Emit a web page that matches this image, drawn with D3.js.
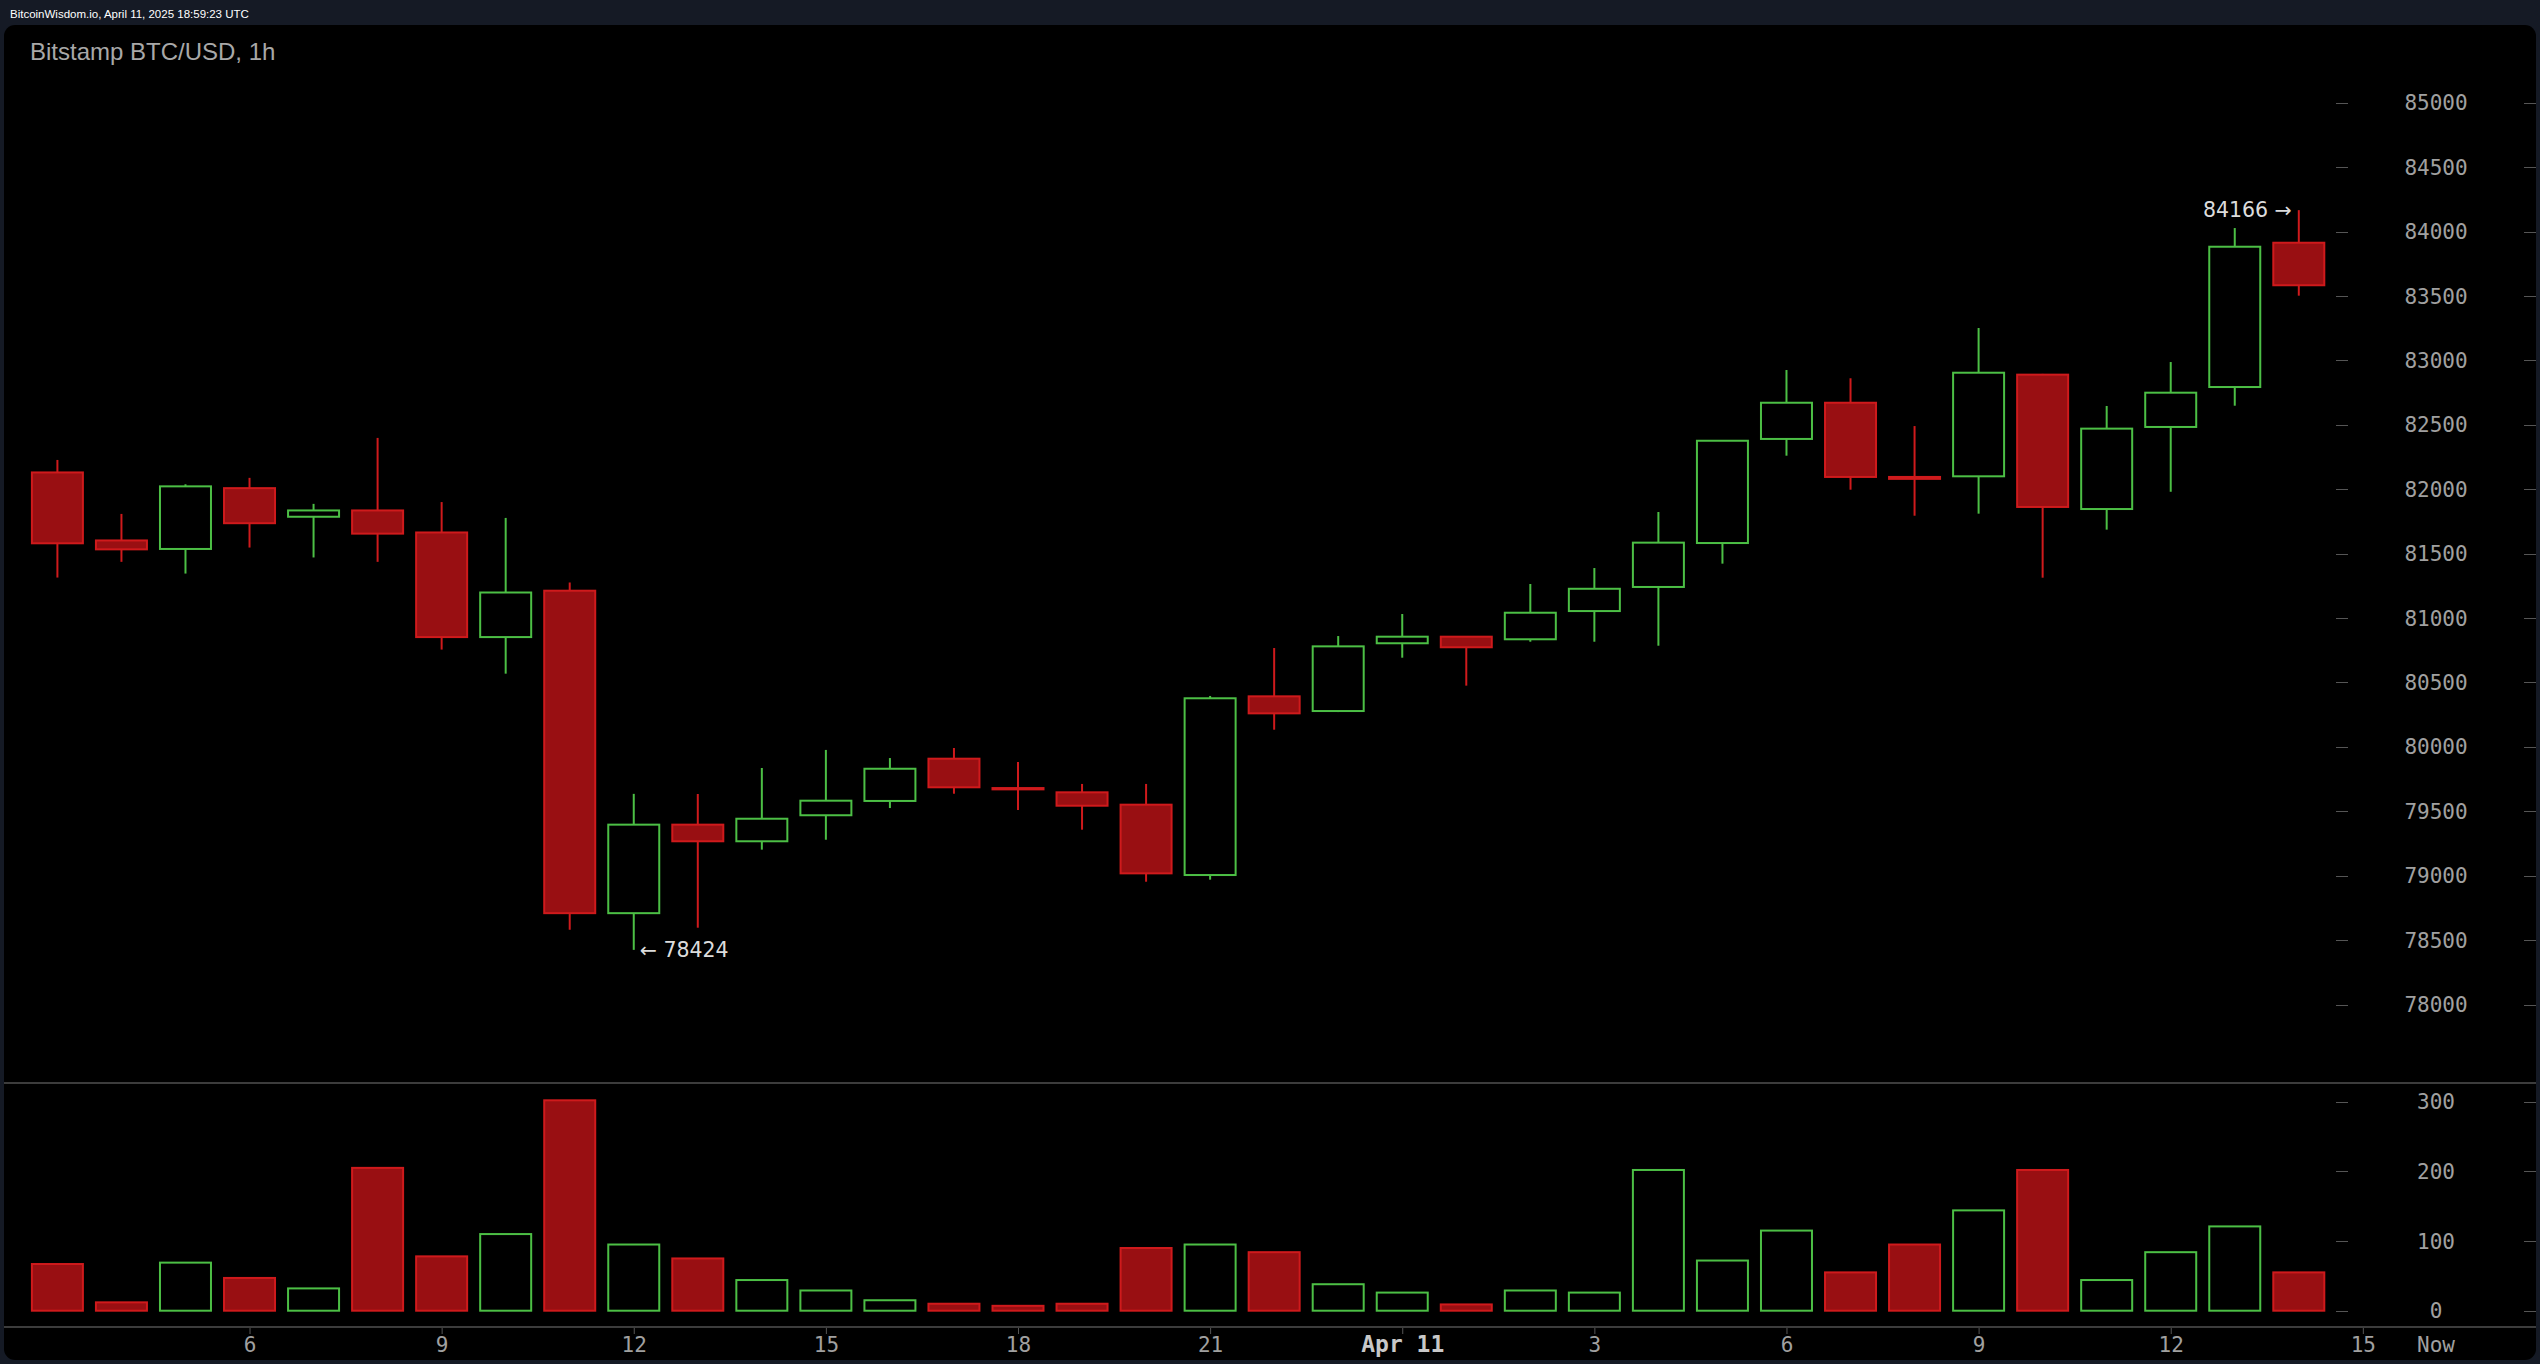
<!DOCTYPE html>
<html>
<head>
<meta charset="utf-8">
<script src="https://cdn.jsdelivr.net/npm/d3@7"></script>
<style>
  html, body { margin: 0; padding: 0; background: #151a25; overflow: hidden; }
  svg { display: block; }
</style>
</head>
<body>
<svg id="chart" width="2540" height="1364"></svg>
<script>
// ---------- DATA ----------
const startTime = "2025-04-10T03:00:00Z"; // first hourly candle (UTC)
const openVals  = [82130,81602,81536,82008,81786,81835,81664,80852,81212,78709,79396,79267,79469,79580,79908,79680,79647,79551,79005,80392,80278,80804,80855,80835,81054,81241,81582,82390,82671,82095,82100,82889,81846,82483,82793,83913];
const highVals  = [82227,81808,82038,82088,81886,82398,81900,81777,81276,79635,79634,79836,79976,79913,79991,79882,79712,79712,80395,80767,80860,81031,80860,81264,81388,81823,82380,82925,82861,82490,83251,82895,82646,82987,84027,84166];
const lowVals   = [81314,81436,81345,81547,81470,81436,80755,80568,78581,78424,78596,79202,79279,79525,79636,79510,79357,78953,78969,80133,80270,80692,80475,80816,80816,80785,81422,82260,81996,81794,81810,81313,81686,81980,82648,83502];
const closeVals = [81580,81533,82022,81736,81835,81655,80852,81198,78709,79396,79267,79442,79582,79830,79686,79670,79543,79018,80377,80260,80780,80855,80773,81041,81227,81585,82376,82671,82095,82080,82904,81862,82470,82749,83882,83583];
const volumeVals = [67,12,69,47,32,205,78,110,302,95,75,44,29,15,10,7,10,90,95,84,38,26,9,29,26,202,72,115,55,95,144,202,44,84,121,55];
const priceTicks = [78000,78500,79000,79500,80000,80500,81000,81500,82000,82500,83000,83500,84000,84500,85000];
const volumeTicks = [0,100,200,300];
const timeTicks = ["2025-04-10T06:00:00Z","2025-04-10T09:00:00Z","2025-04-10T12:00:00Z","2025-04-10T15:00:00Z","2025-04-10T18:00:00Z","2025-04-10T21:00:00Z","2025-04-11T00:00:00Z","2025-04-11T03:00:00Z","2025-04-11T06:00:00Z","2025-04-11T09:00:00Z","2025-04-11T12:00:00Z","2025-04-11T15:00:00Z"];
const timeTickLabels = ["6","9","12","15","18","21","Apr 11","3","6","9","12","15"];
const headerText = "BitcoinWisdom.io, April 11, 2025 18:59:23 UTC";
const titleText = "Bitstamp BTC/USD, 1h";
const highNote = "84166 →";
const lowNote = "← 78424";

// ---------- BUILD ----------
const t0 = new Date(startTime);
const candles = openVals.map((o, i) => ({
  t: d3.utcHour.offset(t0, i), o, h: highVals[i], l: lowVals[i], c: closeVals[i], v: volumeVals[i]
}));

const svg = d3.select("#chart");
const RED_FILL = "#990f12", RED = "#cf1a1c", GREEN = "#4cbf45";
const AX = "#a0a0a0", LINE = "#3c3c3c";
const MONO = "'DejaVu Sans Mono', monospace";

// panel
svg.append("rect").attr("x", 4).attr("y", 25).attr("width", 2532).attr("height", 1335)
  .attr("rx", 11).attr("fill", "#000");

svg.append("text").attr("x", 10).attr("y", 18).attr("fill", "#fff")
  .attr("font-family", "'Liberation Sans', Arial, sans-serif").attr("font-size", 11.5)
  .text(headerText);
svg.append("text").attr("x", 30).attr("y", 60).attr("fill", "#a8a8a8")
  .attr("font-family", "'Liberation Sans', Arial, sans-serif").attr("font-size", 24)
  .text(titleText);

// scales
const x = d3.scaleUtc()
  .domain([new Date("2025-04-10T00:00:00Z"), new Date("2025-04-11T15:00:00Z")])
  .range([-134.72, 2362.84]);
const y = d3.scaleLinear().domain([78000, 85000]).range([1004.5, 102.7]);
const yv = d3.scaleLinear().domain([0, 300]).range([1310.7, 1101.7]);
const bodyW = 51;

// separator and axis lines
svg.append("line").attr("x1", 4).attr("x2", 2536).attr("y1", 1083).attr("y2", 1083)
  .attr("stroke", LINE).attr("stroke-width", 2);

// price axis labels & dashes
const pg = svg.append("g");
priceTicks.forEach(p => {
  const yy = Math.round(y(p)) + 0.5;
  pg.append("line").attr("x1", 2336).attr("x2", 2348).attr("y1", yy).attr("y2", yy).attr("stroke", "#555");
  pg.append("line").attr("x1", 2524).attr("x2", 2536).attr("y1", yy).attr("y2", yy).attr("stroke", "#555");
  pg.append("text").attr("x", 2436).attr("y", y(p)).attr("dy", "0.36em")
    .attr("text-anchor", "middle").attr("fill", AX).attr("font-family", MONO).attr("font-size", 21)
    .text(p);
});
volumeTicks.forEach(v => {
  const yy = Math.round(yv(v)) + 0.5;
  pg.append("line").attr("x1", 2336).attr("x2", 2348).attr("y1", yy).attr("y2", yy).attr("stroke", "#555");
  pg.append("line").attr("x1", 2524).attr("x2", 2536).attr("y1", yy).attr("y2", yy).attr("stroke", "#555");
  pg.append("text").attr("x", 2436).attr("y", yv(v)).attr("dy", "0.36em")
    .attr("text-anchor", "middle").attr("fill", AX).attr("font-family", MONO).attr("font-size", 21)
    .text(v);
});

// candles
const cg = svg.append("g");
candles.forEach(d => {
  const up = d.c >= d.o;
  const cx = x(d.t);
  const col = up ? GREEN : RED;
  cg.append("line").attr("x1", cx).attr("x2", cx).attr("y1", y(d.h)).attr("y2", y(d.l))
    .attr("stroke", col).attr("stroke-width", 2);
  const top = y(Math.max(d.o, d.c)), bot = y(Math.min(d.o, d.c));
  cg.append("rect").attr("x", cx - bodyW / 2).attr("y", top)
    .attr("width", bodyW).attr("height", Math.max(1, bot - top))
    .attr("fill", up ? "#000" : RED_FILL).attr("stroke", col).attr("stroke-width", 2);
});

// volume bars
const vg = svg.append("g");
candles.forEach(d => {
  const up = d.c >= d.o;
  const cx = x(d.t);
  vg.append("rect").attr("x", cx - bodyW / 2).attr("y", yv(d.v))
    .attr("width", bodyW).attr("height", yv(0) - yv(d.v))
    .attr("fill", up ? "#000" : RED_FILL).attr("stroke", up ? GREEN : RED).attr("stroke-width", 2);
});

// annotations
const hiIdx = d3.maxIndex(candles, d => d.h);
const loIdx = d3.minIndex(candles, d => d.l);
svg.append("text").attr("x", x(candles[hiIdx].t) - 7).attr("y", y(candles[hiIdx].h)).attr("dy", "0.35em")
  .attr("text-anchor", "end").attr("fill", "#dcdcdc").attr("font-family", "'DejaVu Sans', sans-serif")
  .attr("font-size", 20.5).text(highNote);
svg.append("text").attr("x", x(candles[loIdx].t) + 6).attr("y", y(candles[loIdx].l)).attr("dy", "0.35em")
  .attr("text-anchor", "start").attr("fill", "#dcdcdc").attr("font-family", "'DejaVu Sans', sans-serif")
  .attr("font-size", 20.5).text(lowNote);

// x axis
const xAxis = d3.axisBottom(x)
  .tickValues(timeTicks.map(s => new Date(s)))
  .tickFormat((d, i) => timeTickLabels[i])
  .tickSize(7).tickPadding(5);
const xg = svg.append("g").attr("transform", "translate(0,1327)").call(xAxis);
xg.select(".domain").remove();
xg.selectAll(".tick line").attr("stroke", "#555");
xg.selectAll(".tick text").attr("fill", AX).attr("font-family", MONO).attr("font-size", 21)
  .attr("y", 25).attr("dy", 0)
  .filter((d, i) => timeTickLabels[i] === "Apr 11")
  .attr("font-weight", "bold").attr("font-size", 23).attr("fill", "#c8c8c8");
svg.append("line").attr("x1", 4).attr("x2", 2536).attr("y1", 1327).attr("y2", 1327)
  .attr("stroke", LINE).attr("stroke-width", 2);
svg.append("text").attr("x", 2436).attr("y", 1352).attr("text-anchor", "middle")
  .attr("fill", AX).attr("font-family", MONO).attr("font-size", 21).text("Now");
</script>
</body>
</html>
